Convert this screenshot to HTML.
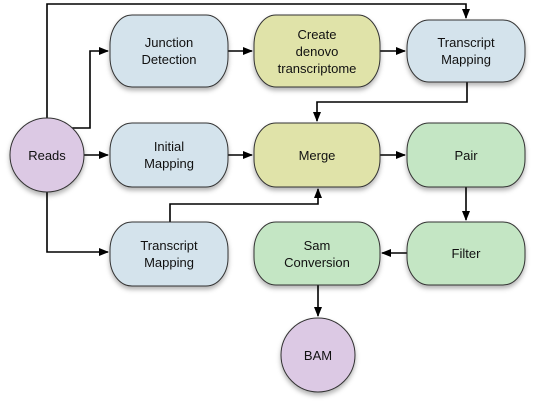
<!DOCTYPE html>
<html><head><style>body{margin:0;background:#fff}svg{display:block}</style></head><body>
<svg width="535" height="408" viewBox="0 0 535 408" xmlns="http://www.w3.org/2000/svg" font-family="Liberation Sans, sans-serif" font-size="13">
<defs>
<marker id="a" markerWidth="10" markerHeight="8" refX="9" refY="4" orient="auto" markerUnits="userSpaceOnUse"><path d="M0,0 L10,4 L0,8 z" fill="#000"/></marker>
<filter id="s" x="-20%" y="-20%" width="140%" height="150%"><feDropShadow dx="0" dy="3" stdDeviation="2.5" flood-opacity="0.3"/></filter>
</defs>
<g fill="none" stroke="#000" stroke-width="1.6">
<path d="M47,118 V4 H466 V18" marker-end="url(#a)"/>
<path d="M72,128 H90 V51 H108" marker-end="url(#a)"/>
<path d="M84,155 H108" marker-end="url(#a)"/>
<path d="M47,192 V252 H108" marker-end="url(#a)"/>
<path d="M228,51 H252" marker-end="url(#a)"/>
<path d="M380,51 H405" marker-end="url(#a)"/>
<path d="M467,82 V102 H317 V121" marker-end="url(#a)"/>
<path d="M228,155 H252" marker-end="url(#a)"/>
<path d="M380,155 H405" marker-end="url(#a)"/>
<path d="M170,222 V204 H318 V189" marker-end="url(#a)"/>
<path d="M466,187 V220" marker-end="url(#a)"/>
<path d="M407,253 H382" marker-end="url(#a)"/>
<path d="M318,285 V316" marker-end="url(#a)"/>
</g>
<g stroke="#333" stroke-width="1" filter="url(#s)">
<rect x="110" y="15" width="118" height="72" rx="22" ry="30" fill="#d4e3ec"/>
<rect x="254" y="15" width="126" height="72" rx="22" ry="30" fill="#e0e3a9"/>
<rect x="407" y="20" width="118" height="62" rx="22" ry="28" fill="#d4e3ec"/>
<rect x="110" y="123" width="118" height="64" rx="22" ry="28" fill="#d4e3ec"/>
<rect x="254" y="123" width="126" height="64" rx="22" ry="28" fill="#e0e3a9"/>
<rect x="407" y="123" width="118" height="64" rx="22" ry="28" fill="#c4e6c4"/>
<rect x="110" y="222" width="118" height="64" rx="22" ry="28" fill="#d4e3ec"/>
<rect x="254" y="222" width="126" height="63" rx="22" ry="28" fill="#c4e6c4"/>
<rect x="407" y="222" width="118" height="63" rx="22" ry="28" fill="#c4e6c4"/>
<circle cx="47" cy="155" r="37" fill="#dcc9e4"/>
<circle cx="318" cy="355" r="37" fill="#dcc9e4"/>
</g>
<g text-anchor="middle" fill="#111">
<text x="169" y="47">Junction</text><text x="169" y="64">Detection</text>
<text x="317" y="39">Create</text><text x="317" y="56">denovo</text><text x="317" y="73">transcriptome</text>
<text x="466" y="47">Transcript</text><text x="466" y="64">Mapping</text>
<text x="169" y="151">Initial</text><text x="169" y="168">Mapping</text>
<text x="317" y="160">Merge</text>
<text x="466" y="160">Pair</text>
<text x="169" y="250">Transcript</text><text x="169" y="267">Mapping</text>
<text x="317" y="250">Sam</text><text x="317" y="267">Conversion</text>
<text x="466" y="258">Filter</text>
<text x="47" y="160">Reads</text>
<text x="318" y="360">BAM</text>
</g>
</svg>
</body></html>
